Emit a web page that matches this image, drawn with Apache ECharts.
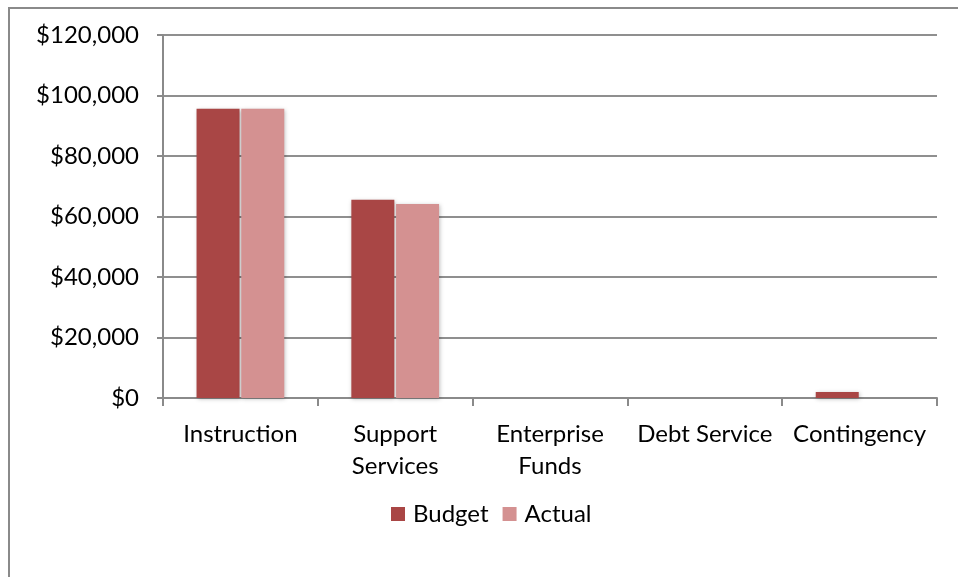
<!DOCTYPE html>
<html>
<head>
<meta charset="utf-8">
<script src="https://cdn.jsdelivr.net/npm/echarts@6/dist/echarts.min.js"></script>
<style>
html,body{margin:0;padding:0;background:#fff;}
#frame{position:absolute;left:8px;top:7px;width:1000px;height:600px;border-left:2px solid #8a8a8a;border-top:2px solid #8a8a8a;}
#chart{position:absolute;left:0;top:0;width:958px;height:577px;}
</style>
</head>
<body>
<div id="frame"></div>
<div id="chart"></div>
<script>
const categories = ['Instruction', 'Support\nServices', 'Enterprise\nFunds', 'Debt Service', 'Contingency'];
const budget = [95600, 65500, 0, 0, 2000];
const actual = [95600, 64100, 0, 0, 0];
const yTicks = { min: 0, max: 120000, interval: 20000 };

const FONT = 'Lato';
const chart = echarts.init(document.getElementById('chart'), null, { renderer: 'canvas' });
const shadow = { shadowBlur: 4, shadowColor: 'rgba(0,0,0,0.25)', shadowOffsetX: 1, shadowOffsetY: 1 };
chart.setOption({
  animation: false,
  textStyle: { fontFamily: FONT },
  grid: { left: 163, right: 21, top: 35, bottom: 179, containLabel: false },
  legend: {
    data: ['Budget', 'Actual'],
    top: 497,
    left: 386,
    itemWidth: 14,
    itemHeight: 14,
    itemGap: 14,
    icon: 'rect',
    textStyle: { fontFamily: FONT, fontSize: 24, color: '#000', padding: [0, 0, 0, 3] }
  },
  xAxis: {
    type: 'category',
    data: categories,
    axisLine: { lineStyle: { color: '#8a8a8a', width: 2 } },
    axisTick: { show: true, length: 8, alignWithLabel: false, lineStyle: { color: '#8a8a8a', width: 2 } },
    axisLabel: { fontFamily: FONT, fontSize: 24, color: '#000', margin: 20, lineHeight: 32, interval: 0 }
  },
  yAxis: {
    type: 'value',
    min: yTicks.min,
    max: yTicks.max,
    interval: yTicks.interval,
    axisLine: { show: true, lineStyle: { color: '#8a8a8a', width: 2 } },
    axisTick: { show: true, length: 6, lineStyle: { color: '#8a8a8a', width: 2 } },
    splitLine: { lineStyle: { color: '#8f8f8f', width: 2 } },
    axisLabel: {
      fontFamily: FONT, fontSize: 24, color: '#000', margin: 24,
      formatter: v => '$' + v.toLocaleString('en-US')
    }
  },
  series: [
    { name: 'Budget', type: 'bar', data: budget, barWidth: 43, barGap: '4%',
      itemStyle: Object.assign({ color: '#a94645' }, shadow) },
    { name: 'Actual', type: 'bar', data: actual, barWidth: 43,
      itemStyle: Object.assign({ color: '#d49191' }, shadow) }
  ]
});
</script>
</body>
</html>
